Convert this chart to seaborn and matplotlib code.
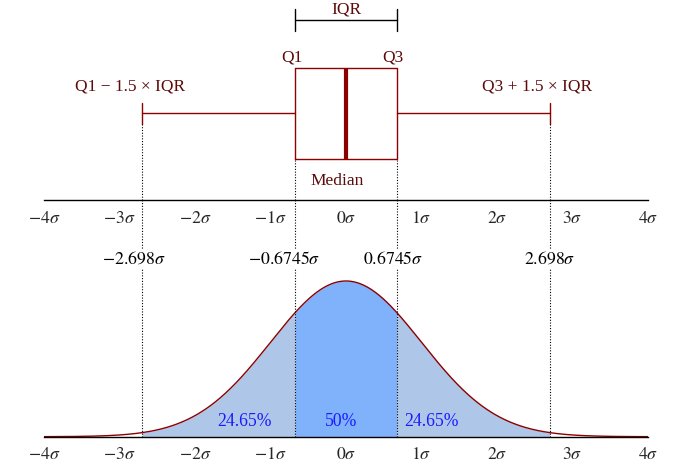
import numpy as np
import matplotlib
matplotlib.use("Agg")
import matplotlib.pyplot as plt
import seaborn as sns

# ---- data ----
mu = 0.0
sigma = 1.0
tick_vals = [-4, -3, -2, -1, 0, 1, 2, 3, 4]
tick_labels = [r"$-4\sigma$", r"$-3\sigma$", r"$-2\sigma$", r"$-1\sigma$", r"$0\sigma$",
               r"$1\sigma$", r"$2\sigma$", r"$3\sigma$", r"$4\sigma$"]
q1, med, q3 = -0.6745, 0.0, 0.6745
whisk_lo, whisk_hi = -2.698, 2.698
sigma_marks = [-2.698, -0.6745, 0.6745, 2.698]
sigma_mark_labels = [r"$-2.698\sigma$", r"$-0.6745\sigma$", r"$0.6745\sigma$", r"$2.698\sigma$"]
sigma_mark_x = [-2.81, -0.82, 0.62, 2.70]
pct_labels = ["24.65%", "50%", "24.65%"]
pct_x = [-1.34, -0.07, 1.13]

sns.set_style("white")
plt.rcParams["font.family"] = ["Liberation Serif", "DejaVu Serif"]
plt.rcParams["mathtext.fontset"] = "stix"

RED = "#8b0000"
TXT = "#5c0a0a"
LIGHT = "#aec7e8"
MID = "#7fb2fb"
BLUE = "#1a1aff"

fig = plt.figure(figsize=(6.83, 4.69), dpi=100)
W = 683.0
H = 469.0
left = 44 / W
width = 604 / W
ax1 = fig.add_axes([left, (H - 200) / H, width, 200 / H])
ax2 = fig.add_axes([left, (H - 436.7) / H, width, (436.7 - 200) / H])
for ax in (ax1, ax2):
    ax.patch.set_alpha(0)
    ax.set_xlim(-4, 4)
    ax.set_xticks(tick_vals)
    ax.set_xticklabels(tick_labels, fontsize=12.8)
    ax.set_yticks([])
    sns.despine(ax=ax, left=True, top=True, right=True)
    ax.spines["bottom"].set_color("black")
    ax.spines["bottom"].set_linewidth(1.0)
    ax.tick_params(axis="x", direction="out", length=5, width=1, color="black", pad=2)

# ---- box plot ----
ax1.set_ylim(0, 1)
stats = [dict(med=med, q1=q1, q3=q3, whislo=whisk_lo, whishi=whisk_hi, fliers=[])]
ax1.bxp(stats, positions=[0.4325], widths=0.455, capwidths=0.105, orientation="horizontal",
        showfliers=False, manage_ticks=False,
        boxprops=dict(color=RED, linewidth=1.0),
        whiskerprops=dict(color=RED, linewidth=1.0),
        capprops=dict(color=RED, linewidth=1.0),
        medianprops=dict(color=RED, linewidth=3.0))
ax1.set_yticks([])

# IQR bracket
ax1.plot([q1, q3], [0.9, 0.9], color="black", lw=1.0)
ax1.plot([q1, q1], [0.845, 0.955], color="black", lw=1.0)
ax1.plot([q3, q3], [0.845, 0.955], color="black", lw=1.0)
ax1.text(0, 0.955, "IQR", ha="center", va="center", fontsize=12.5, color=TXT)
ax1.text(-0.715, 0.715, "Q1", ha="center", va="center", fontsize=12.5, color=TXT)
ax1.text(0.62, 0.715, "Q3", ha="center", va="center", fontsize=12.5, color=TXT)
ax1.text(-2.86, 0.567, "Q1 \u2212 1.5 \u00d7 IQR", ha="center", va="center", fontsize=12.5, color=TXT)
ax1.text(2.53, 0.567, "Q3 + 1.5 \u00d7 IQR", ha="center", va="center", fontsize=12.5, color=TXT)
ax1.text(-0.12, 0.095, "Median", ha="center", va="center", fontsize=12.5, color=TXT)

# dotted guides in top axes
for xv, ytop in [(whisk_lo, 0.38), (q1, 0.205), (q3, 0.205), (whisk_hi, 0.38)]:
    ax1.plot([xv, xv], [0, ytop], color="black", lw=0.8, ls=(0, (1, 1.5)))

# ---- normal curve ----
ymax = 0.3989 * 236.7 / 155.7
ax2.set_ylim(0, ymax)
xs = np.linspace(-4, 4, 801)
pdf = np.exp(-0.5 * ((xs - mu) / sigma) ** 2) / (sigma * np.sqrt(2 * np.pi))

def seg(a, b):
    x = np.linspace(a, b, 200)
    return x, np.exp(-0.5 * ((x - mu) / sigma) ** 2) / (sigma * np.sqrt(2 * np.pi))

for a, b, c in [(whisk_lo, q1, LIGHT), (q1, q3, MID), (q3, whisk_hi, LIGHT)]:
    x, y = seg(a, b)
    ax2.fill_between(x, 0, y, color=c, lw=0)

sns.lineplot(x=xs, y=pdf, ax=ax2, color=RED, lw=1.0)

for xv in sigma_marks:
    ax2.plot([xv, xv], [0, ymax], color="black", lw=0.8, ls=(0, (1, 1.5)), zorder=2.5)

for xt, lab in zip(sigma_mark_x, sigma_mark_labels):
    ax2.text(xt, 0.455, lab, ha="center", va="center", fontsize=12.8, color="black",
             bbox=dict(facecolor="white", edgecolor="none", pad=1.0), zorder=4)

for xt, lab in zip(pct_x, pct_labels):
    ax2.text(xt, 0.0384, lab, ha="center", va="center", fontsize=12.7, color=BLUE, zorder=4)

ax2.set_xlabel("")
ax2.set_ylabel("")

fig.savefig("out.png", dpi=100)
